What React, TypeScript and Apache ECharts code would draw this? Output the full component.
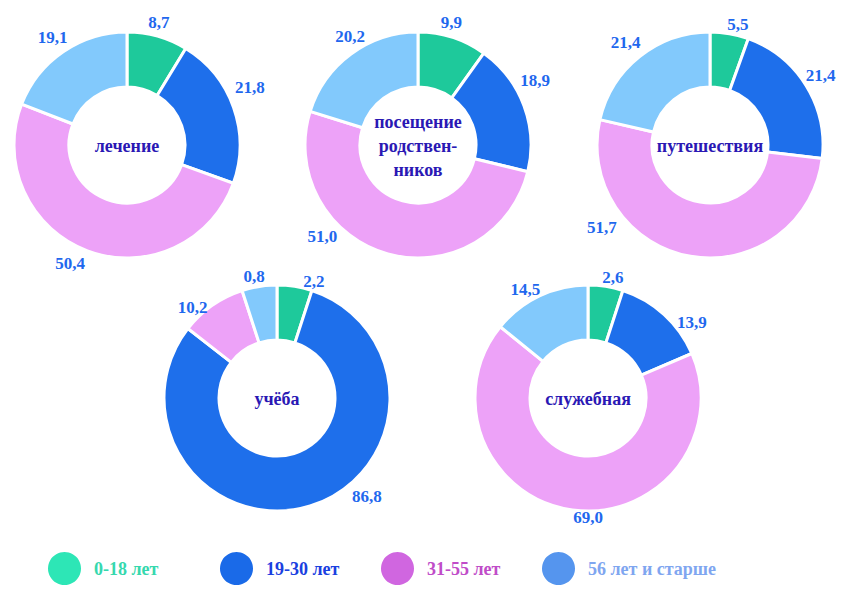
import React, { useEffect, useRef } from "react";
import * as echarts from "echarts";

const categories = ["0-18 лет", "19-30 лет", "31-55 лет", "56 лет и старше"];
const groupNames = ["лечение", "посещение\nродствен-\nников", "путешествия", "учёба", "служебная"];
const lechenie = [8.7, 21.8, 50.4, 19.1];
const poseshchenie = [9.9, 18.9, 51.0, 20.2];
const puteshestviya = [5.5, 21.4, 51.7, 21.4];
const ucheba = [2.2, 86.8, 10.2, 0.8];
const sluzhebnaya = [2.6, 13.9, 69.0, 14.5];
const groupValues = [lechenie, poseshchenie, puteshestviya, ucheba, sluzhebnaya];

const sliceColors = ["#1ec99b", "#1e6feb", "#eda2f8", "#82c9fc"];
const legendIconColors = ["#2de6b6", "#1a6ae8", "#d066e0", "#5595ee"];
const legendTextColors = ["#36d8ae", "#1a40e0", "#c04cc8", "#7fa6f0"];

// layout (style) settings
const centers: [number, number][] = [
  [127, 145],
  [418, 145],
  [710, 145],
  [277, 398],
  [588, 398],
];
const legendLefts = [48, 220, 381, 542];
// per-label nudges [dx, dy] to match the reference's hand-placed labels
const labelNudges: [number, number][][] = [
  [[-17, -4], [-13, -17], [6, 3], [15, -6]],
  [[-20, -5], [-18, -22], [-43, -27], [25, -9]],
  [[-9, 1], [-14, -5], [-67, -39], [12, -6]],
  [[2, 5], [34, -19], [6, 10], [12, 0]],
  [[-10, 1], [1, 15], [37, -2], [10, 3]],
];

const FONT = "serif";

export default function App() {
  const ref = useRef<HTMLDivElement>(null);
  useEffect(() => {
    if (!ref.current) return;
    const chart = echarts.init(ref.current, null, { renderer: "svg" });
    const series = groupValues.map((vals, gi) => ({
      type: "pie",
      name: groupNames[gi],
      center: centers[gi],
      radius: [58, 113],
      startAngle: 90,
      clockwise: true,
      minAngle: 18,
      avoidLabelOverlap: false,
      itemStyle: { borderColor: "#ffffff", borderWidth: 3 },
      label: {
        show: true,
        position: "outside",
        formatter: (p: any) => Number(p.value).toFixed(1).replace(".", ","),
        fontSize: 17,
        fontWeight: "bold",
        fontFamily: FONT,
        color: "#1f68ee",
      },
      labelLine: { show: false, length: 10, length2: 0 },
      labelLayout: (p: any) => {
        const n = labelNudges[gi][p.dataIndex] || [0, 0];
        return { dx: n[0], dy: n[1] };
      },
      emphasis: { disabled: true },
      data: vals.map((v, i) => ({
        name: categories[i],
        value: v,
        itemStyle: { color: sliceColors[i] },
      })),
    }));
    const legends = categories.map((c, i) => ({
      left: legendLefts[i],
      top: 552,
      padding: 0,
      orient: "horizontal",
      icon: "circle",
      itemWidth: 33,
      itemHeight: 33,
      selectedMode: false,
      textStyle: {
        fontSize: 18,
        fontWeight: "bold",
        fontFamily: FONT,
        color: legendTextColors[i],
        padding: [0, 0, 0, 8],
      },
      data: [
        {
          name: c,
          itemStyle: { color: legendIconColors[i], borderWidth: 0 },
          textStyle: { color: legendTextColors[i] },
        },
      ],
    }));
    const graphics = groupNames.map((g, gi) => ({
      type: "text",
      x: centers[gi][0],
      y: centers[gi][1] + 1,
      style: {
        text: g,
        textAlign: "center",
        textVerticalAlign: "middle",
        fontSize: 18,
        fontWeight: "bold",
        fontFamily: FONT,
        fill: "#2a18b4",
        lineHeight: 24,
      },
    }));
    chart.setOption({
      animation: false,
      backgroundColor: "#ffffff",
      legend: legends,
      series,
      graphic: graphics,
    } as any);
    return () => chart.dispose();
  }, []);
  return (
    <div
      ref={ref}
      style={{ position: "fixed", left: 0, top: 0, width: 844, height: 603 }}
    />
  );
}
